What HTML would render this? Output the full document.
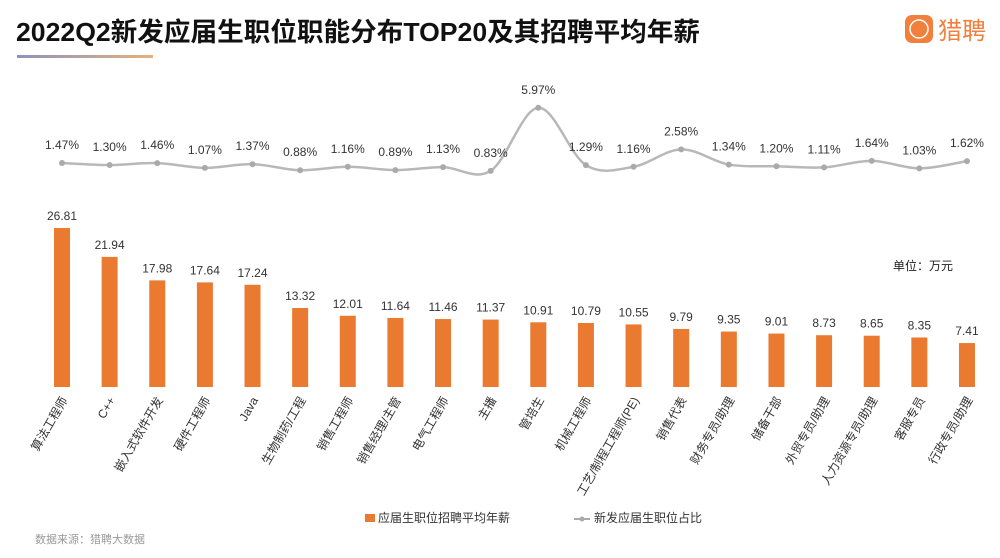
<!DOCTYPE html>
<html><head><meta charset="utf-8"><style>
body{margin:0;background:#fff;width:1000px;height:553px;overflow:hidden;font-family:"Liberation Sans","Noto Sans CJK SC",sans-serif}
</style></head><body>
<svg id="s" width="1000" height="553" xmlns="http://www.w3.org/2000/svg" font-family="Liberation Sans, Noto Sans CJK SC, sans-serif">
<defs><linearGradient id="g" x1="0" x2="1"><stop offset="0" stop-color="#8a94c0"/><stop offset="1" stop-color="#e8b07a"/></linearGradient></defs>
<text x="16" y="41" font-size="26" font-weight="bold" fill="#111" textLength="684" lengthAdjust="spacingAndGlyphs">2022Q2新发应届生职位职能分布TOP20及其招聘平均年薪</text>
<rect x="17" y="55" width="136" height="3" fill="url(#g)"/>
<rect x="905" y="15" width="28" height="28" rx="7" fill="#f0803c"/>
<circle cx="919" cy="29" r="9" fill="none" stroke="#fff" stroke-width="1.5"/>
<text x="938" y="39" font-size="24" fill="#f0803c">猎聘</text>
<text x="893" y="270" font-size="12" fill="#222">单位：万元</text>
<text x="35" y="543" font-size="11" fill="#999">数据来源：猎聘大数据</text>
<rect x="365" y="514" width="10" height="8" fill="#ea7a30"/>
<text x="378" y="522" font-size="12" fill="#333">应届生职位招聘平均年薪</text>
<line x1="574" y1="519" x2="590" y2="519" stroke="#aaa" stroke-width="2"/><circle cx="582" cy="519" r="2.5" fill="#aaa"/>
<text x="594" y="522" font-size="12" fill="#333">新发应届生职位占比</text>
</svg>
<script>
var s=document.getElementById('s'),NS='http://www.w3.org/2000/svg';
var names=["算法工程师","C++","嵌入式软件开发","硬件工程师","Java","生物制药/工程","销售工程师","销售经理/主管","电气工程师","主播","管培生","机械工程师","工艺/制程工程师(PE)","销售代表","财务专员/助理","储备干部","外贸专员/助理","人力资源专员/助理","客服专员","行政专员/助理"];
var sal=[26.81,21.94,17.98,17.64,17.24,13.32,12.01,11.64,11.46,11.37,10.91,10.79,10.55,9.79,9.35,9.01,8.73,8.65,8.35,7.41];
var pct=[1.47,1.30,1.46,1.07,1.37,0.88,1.16,0.89,1.13,0.83,5.97,1.29,1.16,2.58,1.34,1.20,1.11,1.64,1.03,1.62];
function el(t,a,txt){var e=document.createElementNS(NS,t);for(var k in a)e.setAttribute(k,a[k]);if(txt!=null)e.textContent=txt;s.appendChild(e);return e;}
var pts=[];
for(var i=0;i<20;i++){
 var x=62+i*47.63,h=sal[i]*5.93;
 el('rect',{x:x-8,y:387-h,width:16,height:h,fill:'#ea7a30'});
 el('text',{x:x,y:387-h-8,'font-size':12,'text-anchor':'middle',fill:'#333'},sal[i].toFixed(2));
 el('text',{x:x+6,y:400,'font-size':12,'text-anchor':'end',fill:'#333',transform:'rotate(-60 '+(x+6)+' 400)'},names[i]);
 var y=181-12.26*pct[i];pts.push([x,y]);
}
var d='M'+pts[0][0]+','+pts[0][1];
for(var i=0;i<19;i++){var p0=pts[Math.max(0,i-1)],p1=pts[i],p2=pts[i+1],p3=pts[Math.min(19,i+2)];
 d+=' C'+(p1[0]+(p2[0]-p0[0])/6)+','+(p1[1]+(p2[1]-p0[1])/6)+' '+(p2[0]-(p3[0]-p1[0])/6)+','+(p2[1]-(p3[1]-p1[1])/6)+' '+p2[0]+','+p2[1];}
el('path',{d:d,fill:'none',stroke:'#b8b8b8','stroke-width':2.5});
for(var i=0;i<20;i++){el('circle',{cx:pts[i][0],cy:pts[i][1],r:3,fill:'#aaa'});
 el('text',{x:pts[i][0],y:pts[i][1]-14,'font-size':12,'text-anchor':'middle',fill:'#333'},pct[i].toFixed(2)+'%');}
</script>
</body></html>
